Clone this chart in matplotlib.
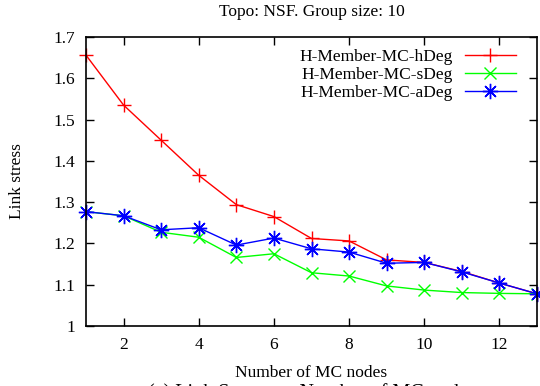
import matplotlib
matplotlib.use("Agg")
import matplotlib.pyplot as plt

plt.rcParams['font.family'] = ['Liberation Serif', 'DejaVu Serif']

x = list(range(1, 14))
h_deg = [1.656, 1.535, 1.450, 1.365, 1.294, 1.265, 1.212, 1.206, 1.160, 1.154, 1.132, 1.104, 1.078]
s_deg = [1.277, 1.267, 1.227, 1.215, 1.166, 1.175, 1.129, 1.121, 1.097, 1.087, 1.081, 1.079, 1.078]
a_deg = [1.277, 1.267, 1.233, 1.238, 1.196, 1.213, 1.187, 1.179, 1.152, 1.154, 1.131, 1.104, 1.078]
labels = ["H-Member-MC-hDeg", "H-Member-MC-sDeg", "H-Member-MC-aDeg"]
xticks = [2, 4, 6, 8, 10, 12]
yticks = [1, 1.1, 1.2, 1.3, 1.4, 1.5, 1.6, 1.7]
ytick_labels = ['1', '1.1', '1.2', '1.3', '1.4', '1.5', '1.6', '1.7']

FS = 12.5
fig = plt.figure(figsize=(5.4, 3.86), dpi=100)
L, R, T, B = 86, 537, 37, 326
ax = fig.add_axes([L/540, 1 - B/386, (R-L)/540, (B-T)/386])

ax.plot(x, h_deg, color='#ff0000', lw=1, marker='+', ms=10, mew=1, label=labels[0], clip_on=False)
ax.plot(x, s_deg, color='#00ff00', lw=1, marker='x', ms=8, mew=1, label=labels[1], clip_on=False)
ax.plot(x, a_deg, color='#0000ff', lw=1, marker=(8, 2, 0), ms=11, mew=1, label=labels[2], clip_on=False)

ax.set_xlim(1, 13)
ax.set_ylim(1, 1.7)
ax.set_xticks(xticks)
ax.set_yticks(yticks)
ax.set_yticklabels(ytick_labels)
ax.tick_params(direction='in', top=True, right=True, length=6, width=1, labelsize=FS, pad=8)
for s in ax.spines.values():
    s.set_linewidth(1.2)

ax.set_xlabel("Number of MC nodes", fontsize=FS, labelpad=8.5)
ax.set_ylabel("Link stress", fontsize=FS, labelpad=20)
fig.text((L+R)/2/540, 1 - 12/386, "Topo: NSF. Group size: 10", ha='center', va='center', fontsize=FS)
fig.text((L+R)/2/540, 1 - 394/386, "(a) Link Stress vs. Number of MC nodes", ha='center', va='center', fontsize=14.5)

leg = ax.legend(loc='upper right', bbox_to_anchor=(0.953, 0.958), frameon=False,
                markerfirst=False, fontsize=FS, handlelength=2.95, handletextpad=0.7,
                labelspacing=0.1, borderaxespad=0, borderpad=0)

fig.savefig("out.png", dpi=100)
